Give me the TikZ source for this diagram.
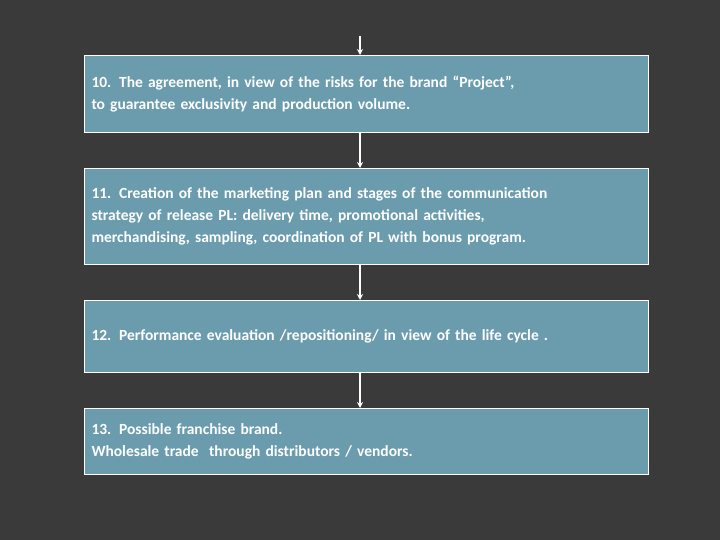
\documentclass[tikz,border=0pt]{standalone}
\usepackage{fontspec}
\setmainfont{Carlito}
\usetikzlibrary{arrows.meta}
\definecolor{bg}{HTML}{3A3A3A}
\definecolor{boxc}{HTML}{6A9CAD}
\begin{document}
\begin{tikzpicture}[x=1pt,y=-1pt,
  stepbox/.style={draw=white,line width=1pt,fill=boxc,minimum width=564pt,anchor=north west,align=left,text width=550pt,inner xsep=7pt,text=white,font=\fontsize{15.5}{22}\selectfont\bfseries},
  conn/.style={draw=white,line width=1.2pt,-{Stealth[length=6pt,width=6pt]}}]
\fill[bg] (0,0) rectangle (720,540);
\node[stepbox,minimum height=77pt] (b1) at (84,55) {10. The agreement, in view of the risks for the brand “Project”,\\to guarantee exclusivity and production volume.};
\node[stepbox,minimum height=96pt] (b2) at (84,168) {11. Creation of the marketing plan and stages of the communication\\strategy of release PL: delivery time, promotional activities,\\merchandising, sampling, coordination of PL with bonus program.};
\node[stepbox,minimum height=72pt] (b3) at (84,300) {12. Performance evaluation /repositioning/ in view of the life cycle .};
\node[stepbox,minimum height=66pt] (b4) at (84,408) {13. Possible franchise brand.\\Wholesale trade \ through distributors / vendors.};
\coordinate (top) at (360,36);
\draw[conn] (top) -- (b1.north -| top);
\draw[conn] (b1.south -| top) -- (b2.north -| top);
\draw[conn] (b2.south -| top) -- (b3.north -| top);
\draw[conn] (b3.south -| top) -- (b4.north -| top);
\end{tikzpicture}
\end{document}
